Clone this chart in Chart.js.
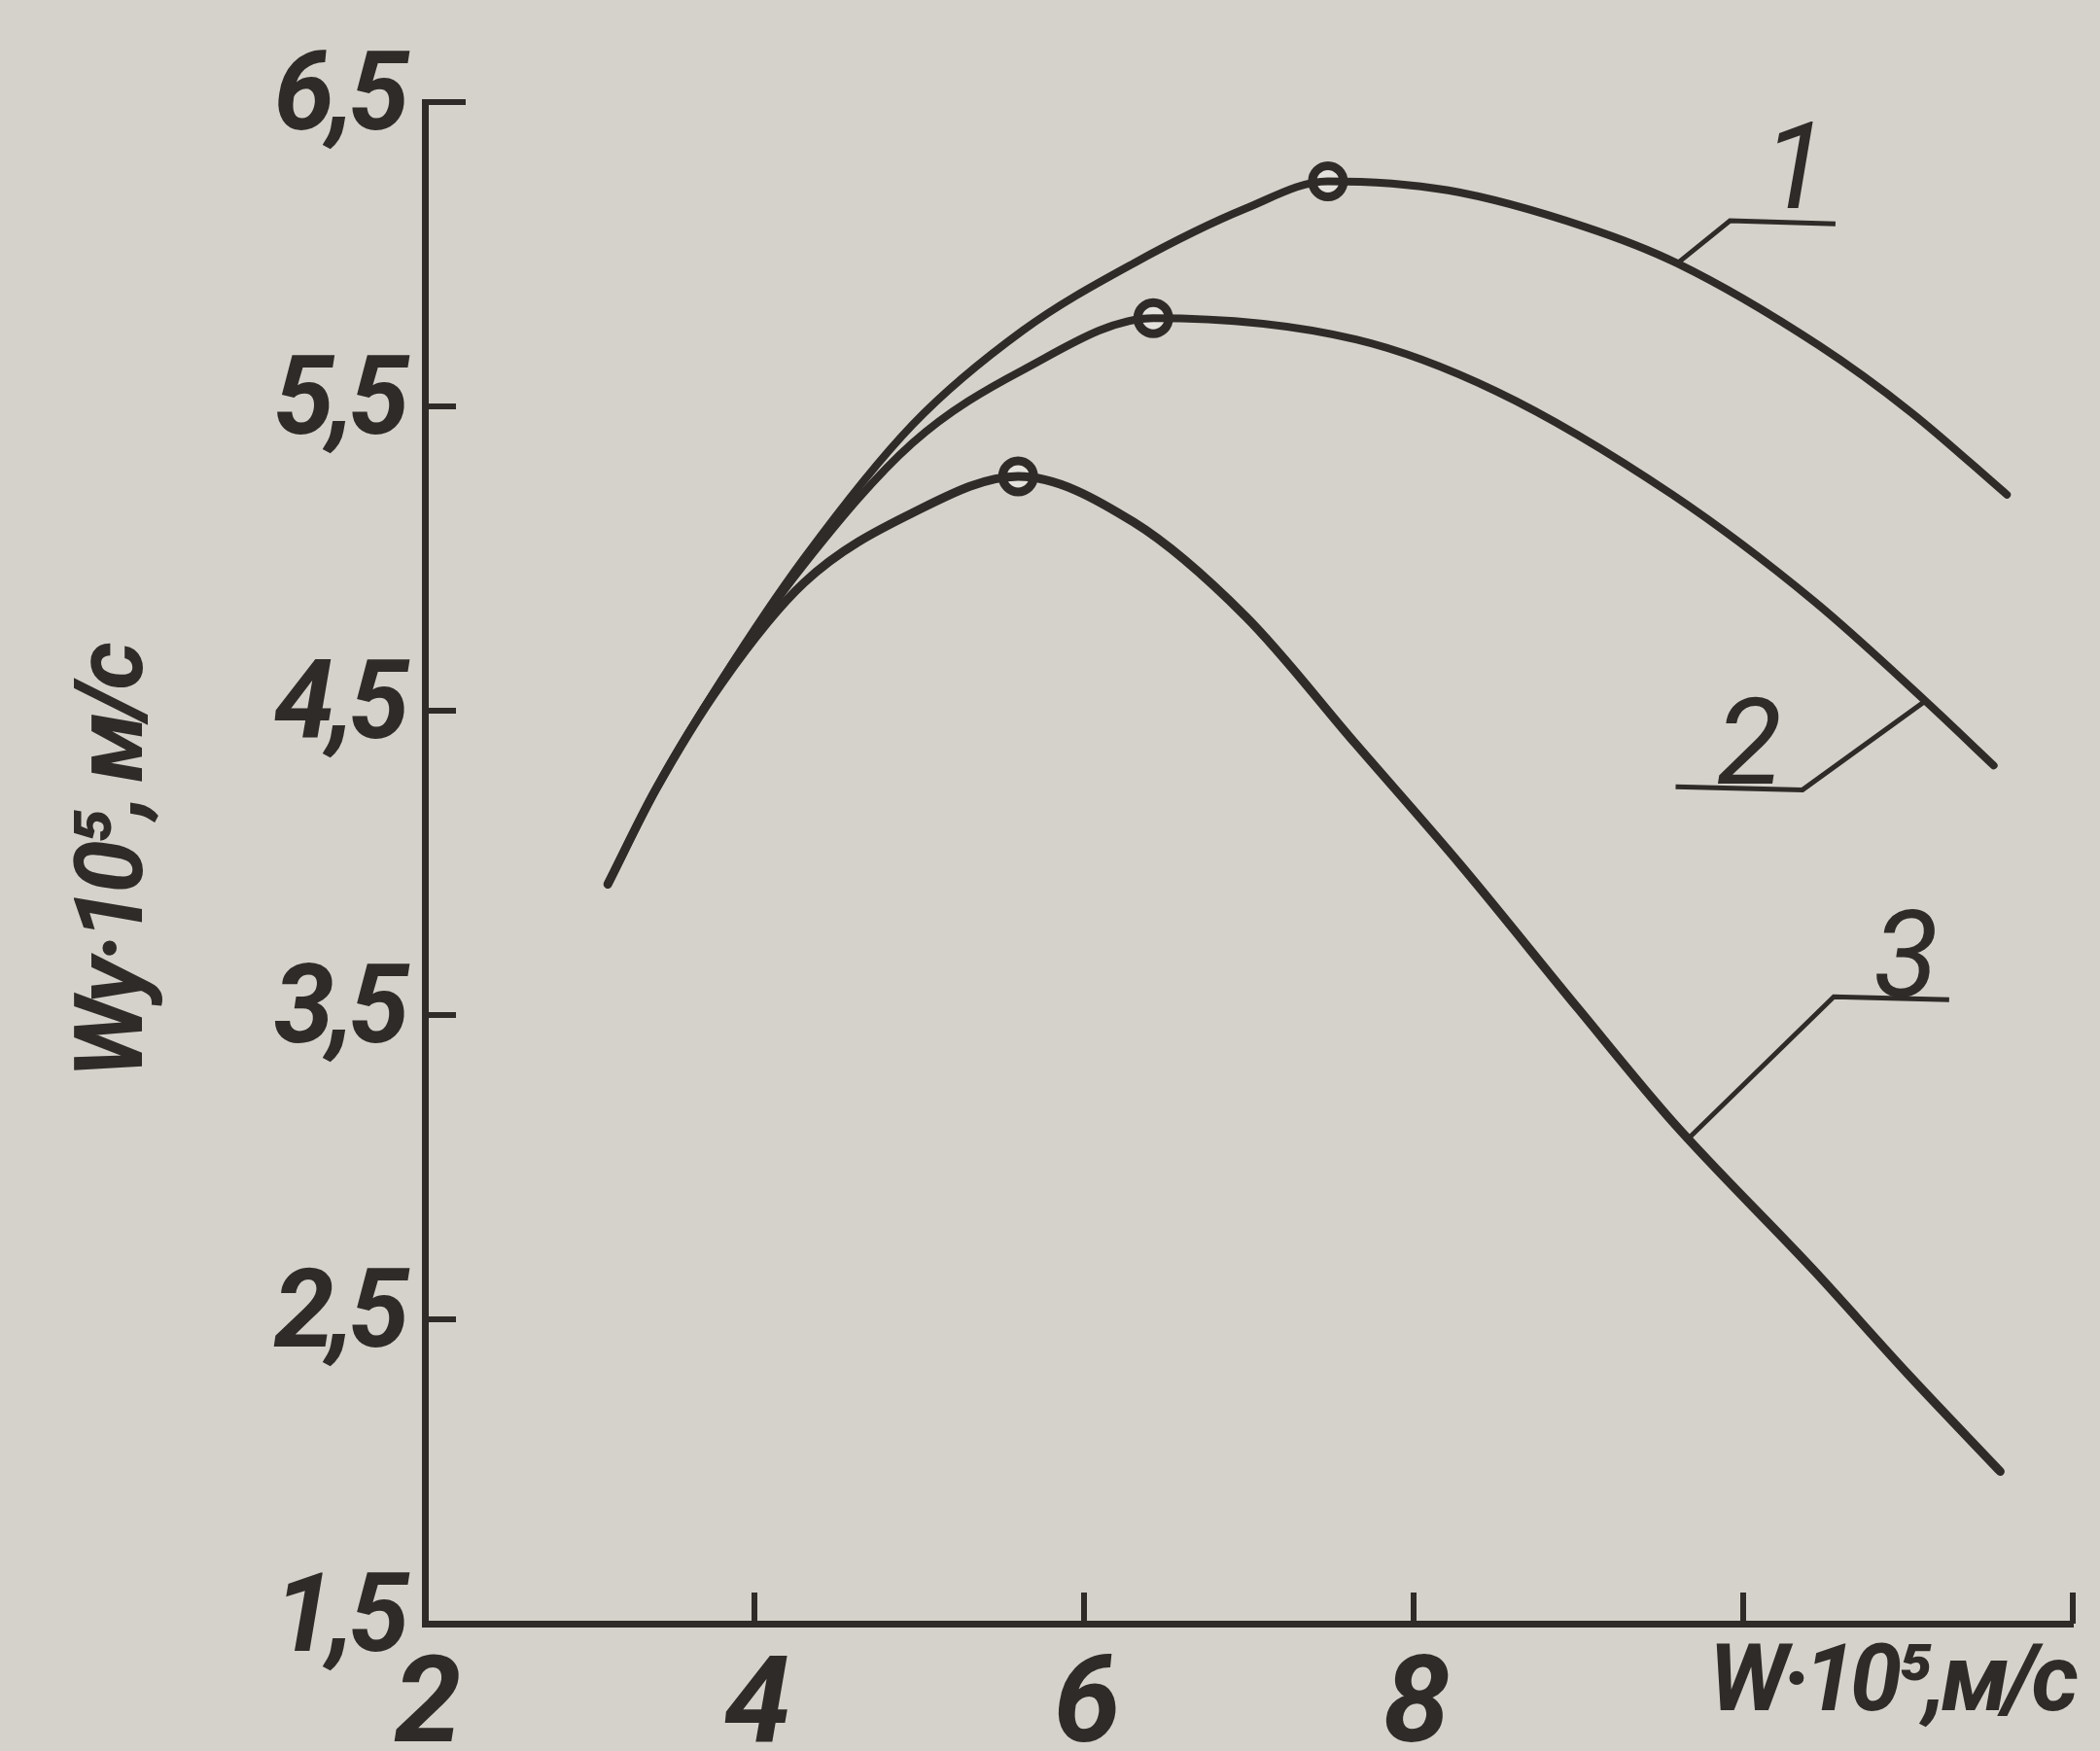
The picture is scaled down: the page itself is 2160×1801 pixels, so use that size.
<!DOCTYPE html>
<html>
<head>
<meta charset="utf-8">
<script src="https://cdn.jsdelivr.net/npm/chart.js@4.4.0/dist/chart.umd.min.js"></script>
<style>
  html, body { margin: 0; padding: 0; background: #d5d2cb; }
  #wrap { width: 2160px; height: 1801px; }
</style>
</head>
<body>
<div id="wrap"><canvas id="chart" width="2160" height="1801"></canvas></div>
<script>
// curves (W·10^5 vs Wy·10^5, м/с)
const curve1X = [3.11, 3.40, 3.80, 4.30, 4.96, 5.63, 6.30, 6.98, 7.48, 8.21, 9.04, 9.60, 10.46, 11.02, 11.60];
const curve1Y = [3.93, 4.24, 4.60, 5.00, 5.44, 5.75, 5.97, 6.15, 6.24, 6.21, 6.09, 5.97, 5.70, 5.48, 5.21];
const curve2X = [3.11, 3.40, 3.80, 4.30, 4.96, 5.63, 6.42, 7.65, 8.50, 9.57, 10.43, 11.11, 11.52];
const curve2Y = [3.93, 4.24, 4.60, 4.98, 5.38, 5.62, 5.79, 5.72, 5.55, 5.21, 4.86, 4.53, 4.32];
const curve3X = [3.11, 3.40, 3.80, 4.30, 4.96, 5.60, 6.30, 6.98, 7.65, 8.29, 9.00, 9.57, 10.43, 11.00, 11.56];
const curve3Y = [3.93, 4.24, 4.59, 4.92, 5.15, 5.27, 5.12, 4.81, 4.39, 3.99, 3.52, 3.15, 2.66, 2.32, 2.00];

// maxima marked with open circles
const peakX = [7.48, 6.42, 5.60];
const peakY = [6.24, 5.79, 5.27];

// leader lines to the curve numbers
const leader1X = [9.60, 9.92, 10.56];
const leader1Y = [5.97, 6.11, 6.10];
const leader2X = [11.10, 10.36, 9.59];
const leader2Y = [4.53, 4.24, 4.25];
const leader3X = [9.66, 10.55, 11.25];
const leader3Y = [3.09, 3.56, 3.55];
const curveNames = ['1', '2', '3'];
const nameX = [10.30, 10.02, 10.97];
const nameY = [6.25, 4.36, 3.66];

const xTicks = [2, 4, 6, 8, 10, 12];
const xTickLabels = ['2', '4', '6', '8', '', ''];
const yTicks = [1.5, 2.5, 3.5, 4.5, 5.5, 6.5];

const ink = '#2f2b28';
const paper = '#d5d2cb';
const family = 'Roboto, "Liberation Sans", "DejaVu Sans", sans-serif';

const pts = (xs, ys) => xs.map((x, i) => ({x: x, y: ys[i]}));

const paperBg = {
  id: 'paperBg',
  beforeDraw(chart) {
    const c = chart.ctx;
    c.save();
    c.fillStyle = paper;
    c.fillRect(0, 0, chart.width, chart.height);
    c.restore();
    // the printed lettering is narrow, tighten it a little
    c.letterSpacing = '-6px';
  },
  afterDraw(chart) {
    chart.ctx.letterSpacing = '0px';
  }
};

// short ticks pointing into the plot, like the drawing
const innerTicks = {
  id: 'innerTicks',
  afterDraw(chart) {
    const c = chart.ctx, xs = chart.scales.x, ys = chart.scales.y;
    const a = chart.chartArea;
    c.save();
    c.strokeStyle = ink;
    c.lineWidth = 6;
    yTicks.forEach(v => {
      if (v === 1.5) return;
      const y = ys.getPixelForValue(v);
      c.beginPath();
      c.moveTo(a.left, y);
      c.lineTo(a.left + (v === 6.5 ? 42 : 32), y);
      c.stroke();
    });
    xTicks.forEach(v => {
      if (v === 2) return;
      const x = xs.getPixelForValue(v);
      c.beginPath();
      c.moveTo(x, a.bottom);
      c.lineTo(x, a.bottom - 32);
      c.stroke();
    });
    c.restore();
  }
};

const curveNumbers = {
  id: 'curveNumbers',
  afterDatasetsDraw(chart) {
    const c = chart.ctx, xs = chart.scales.x, ys = chart.scales.y;
    c.save();
    c.fillStyle = ink;
    c.font = 'italic 400 124px ' + family;
    c.textAlign = 'center';
    c.textBaseline = 'middle';
    curveNames.forEach((t, i) => {
      c.fillText(t, xs.getPixelForValue(nameX[i]), ys.getPixelForValue(nameY[i]));
    });
    c.restore();
  }
};

const curve = (xs, ys, w) => ({
  data: pts(xs, ys),
  showLine: true,
  borderColor: ink,
  borderWidth: w,
  pointRadius: 0,
  cubicInterpolationMode: 'monotone',
  borderCapStyle: 'round'
});
const leader = (xs, ys) => ({
  data: pts(xs, ys),
  showLine: true,
  borderColor: ink,
  borderWidth: 5,
  pointRadius: 0,
  tension: 0
});

new Chart(document.getElementById('chart'), {
  type: 'scatter',
  data: {
    datasets: [
      curve(curve1X, curve1Y, 8),
      curve(curve2X, curve2Y, 8),
      curve(curve3X, curve3Y, 9),
      leader(leader1X, leader1Y),
      leader(leader2X, leader2Y),
      leader(leader3X, leader3Y),
      {
        data: pts(peakX, peakY),
        pointRadius: 16,
        borderWidth: 9,
        borderColor: ink,
        backgroundColor: '#e4e2dc',
        pointStyle: 'circle'
      }
    ]
  },
  options: {
    responsive: false,
    animation: false,
    layout: { padding: { top: 105, right: 14, bottom: 0, left: 0 } },
    plugins: { legend: { display: false }, tooltip: { enabled: false } },
    scales: {
      x: {
        type: 'linear',
        min: 2, max: 12,
        afterFit: s => { s.height = 131; },
        afterBuildTicks: s => { s.ticks = xTicks.map(v => ({value: v})); },
        grid: { display: false, drawTicks: false },
        border: { display: true, color: ink, width: 7 },
        ticks: {
          color: ink,
          padding: 28,
          maxRotation: 0,
          autoSkip: false,
          font: { family: family, size: 124, style: 'italic', weight: 'bold', lineHeight: 1 },
          callback: (v, i) => xTickLabels[i]
        },
        title: {
          display: true,
          text: 'W·10⁵,м/с',
          align: 'end',
          color: ink,
          padding: { top: 0, bottom: 18 },
          font: { family: family, size: 96, style: 'italic', weight: 'bold', lineHeight: 1 }
        }
      },
      y: {
        type: 'linear',
        min: 1.5, max: 6.5,
        afterFit: s => { s.width = 437; },
        afterBuildTicks: s => { s.ticks = yTicks.map(v => ({value: v})); },
        grid: { display: false, drawTicks: false },
        border: { display: true, color: ink, width: 7 },
        ticks: {
          color: ink,
          padding: 22,
          autoSkip: false,
          font: { family: family, size: 112, style: 'italic', weight: 'bold', lineHeight: 1 },
          callback: v => String(v).replace('.', ',')
        },
        title: {
          display: true,
          text: 'Wу·10⁵, м/с',
          color: ink,
          padding: { top: 72, bottom: 0 },
          font: { family: family, size: 98, style: 'italic', weight: 'bold', lineHeight: 1 }
        }
      }
    }
  },
  plugins: [paperBg, innerTicks, curveNumbers]
});
</script>
</body>
</html>
